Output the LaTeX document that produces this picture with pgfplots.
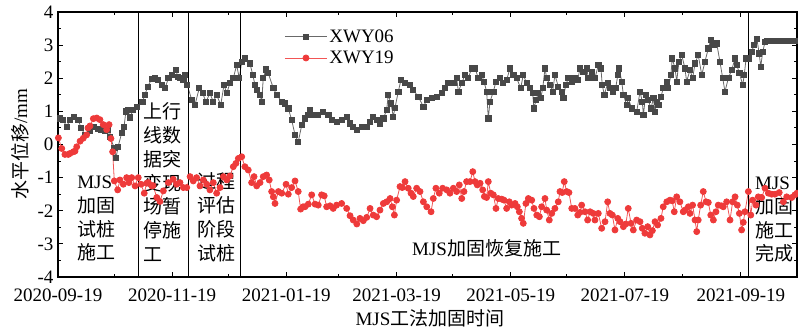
\documentclass[border=0pt]{standalone}
\usepackage{pgfplots}
\pgfplotsset{compat=1.18}
\usepackage{fontspec}
\setmainfont{Liberation Serif}
\newfontfamily\cjk{Noto Sans CJK SC}
\definecolor{gmark}{RGB}{72,72,72}
\definecolor{gline}{RGB}{105,105,105}
\definecolor{rmark}{RGB}{238,58,58}
\definecolor{rline}{RGB}{242,85,85}
\newcommand{\fs}{\fontsize{19}{23.8}\selectfont}
\begin{document}
\begin{tikzpicture}[x=1pt,y=1pt]
\begin{axis}[
  at={(0,0)}, anchor=south west,
  scale only axis, width=739pt, height=265pt,
  xmin=0, xmax=395, ymin=-4, ymax=4,
  xtick={0,61,122,181,242,303,365},
  xticklabels={2020-09-19,2020-11-19,2021-01-19,2021-03-19,2021-05-19,2021-07-19,2021-09-19},
  minor xtick={30,91,150,211,272,334,395},
  ytick={-4,-3,-2,-1,0,1,2,3,4},
  yticklabels={-4,-3,-2,-1,0,1,2,3,4},
  minor ytick={-3.5,-2.5,-1.5,-0.5,0.5,1.5,2.5,3.5},
  tick align=inside, xtick pos=both, ytick pos=both,
  major tick length=5pt, minor tick length=3pt,
  every tick/.style={black, line width=0.9pt},
  axis line style={black, line width=1.1pt},
  tick label style={font=\fs},
  xticklabel style={yshift=-8pt},
  yticklabel style={xshift=-1pt},
  legend style={at={(axis cs:121,3.53)}, anchor=north west, draw=none, fill=none,
    font=\fs, inner sep=0pt, row sep=3pt, legend cell align=left},
  legend image code/.code={\draw[mark repeat=2,mark phase=2,#1] plot coordinates {(0pt,0pt) (21pt,0pt) (42pt,0pt)};},
]
\addplot[gline, line width=0.8pt, mark=square*, mark size=2.6pt, mark options={gmark, fill=gmark, solid}] coordinates {
(1.1,0.79) (2.8,0.74) (4.6,0.54) (6.4,0.74) (8.7,0.84) (10.9,0.74) (12.3,0.5) (14.4,0.30) (17.1,0.40) (19.4,0.54)
(21.5,0.48) (23.0,0.44) (25.1,0.40) (26.7,0.45) (27.8,0.22) (30.1,-0.1) (31.0,-0.41) (32.1,-0.07) (34.0,0.34) (35.3,0.54)
(36.3,1.0) (37.4,1.04) (38.5,0.82) (40.2,1.05) (42.1,1.14) (45.1,1.29) (46.5,1.5) (47.9,1.75) (50.1,1.97) (51.8,2.0)
(53.6,1.95) (55.4,1.8) (57.2,1.7) (59.0,2.0) (60.8,2.1) (62.9,2.25) (64.1,2.05) (65.2,2.0) (67.0,1.95) (67.9,2.1)
(69.1,1.8) (71.5,1.34) (73.2,1.19) (75.5,1.7) (77.3,1.55) (79.1,1.29) (81.2,1.55) (83.0,1.29) (84.8,1.5) (87.0,1.19)
(88.7,1.8) (90.2,1.55) (91.9,1.85) (93.7,2.0) (95.5,2.4) (96.9,2.0) (98.2,2.5) (99.9,2.6) (102.6,2.45) (104.1,2.1)
(105.3,1.8) (106.5,1.65) (108.0,1.5) (108.9,1.29) (109.7,2.0) (111.2,2.27) (112.4,2.15) (115.1,1.7) (116.9,1.5) (119.6,1.29)
(121.3,1.24) (123.1,1.09) (124.9,0.74) (126.7,0.29) (128.4,0.08) (130.3,0.59) (132.0,0.79) (133.8,0.89) (134.7,1.04) (136.5,0.89)
(139.1,0.89) (141.8,0.99) (144.5,0.89) (146.3,0.74) (149.0,0.69) (151.6,0.74) (154.3,0.84) (156.1,0.64) (157.8,0.54) (159.7,0.44)
(162.3,0.54) (165.0,0.54) (166.8,0.69) (168.5,0.84) (170.3,0.74) (172.1,0.64) (173.9,0.79) (175.7,1.04) (176.5,1.5) (178.0,1.24)
(179.2,0.84) (180.1,1.1) (181.9,1.6) (183.3,1.95) (185.5,1.85) (188.1,1.8) (189.9,1.65) (192.6,1.44) (195.3,1.14) (197.1,1.34)
(199.7,1.4) (202.4,1.44) (205.1,1.55) (206.9,1.7) (208.6,1.85) (211.3,1.85) (213.1,2.0) (214.0,1.6) (215.8,1.85) (217.5,2.1)
(219.3,2.0) (221.1,2.3) (222.9,2.3) (224.7,2.0) (226.5,2.1) (227.7,1.9) (229.1,1.6) (230.0,0.79) (230.9,1.29) (232.7,1.6)
(234.1,1.9) (236.2,2.0) (238.0,1.85) (239.8,1.95) (241.6,2.3) (243.4,2.1) (245.2,2.0) (247.3,1.7) (248.7,2.1) (250.5,1.85)
(252.3,1.7) (253.7,1.55) (254.4,1.09) (255.5,1.34) (256.7,1.55) (258.0,1.4) (259.1,1.7) (260.3,2.3) (261.2,2.0) (263.0,1.8)
(264.4,1.6) (265.6,2.1) (267.4,1.75) (269.2,1.6) (270.1,1.4) (271.4,1.8) (272.8,2.0) (274.6,1.9) (276.3,2.0) (277.8,1.95)
(279.0,2.3) (280.8,2.2) (282.6,2.3) (283.5,2.0) (285.3,2.2) (287.0,2.0) (288.8,2.4) (290.2,2.3) (290.9,1.8) (292.0,1.5)
(293.8,1.85) (295.0,1.7) (296.8,1.6) (298.1,1.7) (299.2,2.1) (300.0,2.3) (301.3,1.9) (302.2,1.5) (304.0,1.19) (304.8,1.4)
(306.6,1.09) (309.3,0.99) (311.1,1.6) (312.3,1.29) (312.9,0.89) (314.1,1.5) (315.5,1.34) (317.0,1.09) (318.2,1.4) (319.1,0.99)
(320.0,1.29) (320.9,1.19) (322.3,1.44) (323.5,1.7) (325.4,1.9) (326.2,1.7) (327.6,2.1) (328.3,2.6) (329.8,2.3) (330.7,1.9)
(331.9,2.5) (333.4,2.7) (335.1,2.3) (336.0,1.9) (337.8,2.25) (339.2,2.0) (340.5,2.45) (342.2,2.7) (344.1,2.1) (345.8,2.5)
(347.6,2.9) (348.9,3.16) (350.3,3.0) (352.1,3.05) (353.8,2.5) (355.3,2.0) (356.5,1.6) (358.3,2.0) (360.1,2.25) (361.9,2.6)
(362.8,2.4) (364.2,2.15) (366.0,1.8) (366.8,2.1) (367.8,2.6) (369.5,2.6) (370.8,2.8) (372.0,3.0) (373.5,3.2) (374.8,2.75)
(375.6,2.35) (376.7,2.8) (377.9,3.1) (379.2,3.12) (380.5,3.12) (381.8,3.12) (383.1,3.12) (384.4,3.12) (385.7,3.12) (387.0,3.12)
(388.3,3.12) (389.6,3.12) (390.9,3.12) (392.2,3.12) (393.5,3.12) (394.8,3.12)
};
\addlegendentry{XWY06}
\addplot[rline, line width=0.8pt, mark=*, mark size=3pt, mark options={rmark, fill=rmark, solid}] coordinates {
(0.2,0.2) (2.0,-0.12) (3.7,-0.3) (5.5,-0.3) (6.4,-0.27) (8.2,-0.22) (9.1,-0.2) (10.0,-0.07) (11.8,0.1) (13.5,0.19)
(15.3,0.29) (16.0,0.5) (17.1,0.56) (18.9,0.78) (20.7,0.8) (22.4,0.75) (24.2,0.6) (26.0,0.45) (27.3,0.6) (28.3,0.18)
(29.2,-0.22) (30.1,-1.1) (31.9,-1.37) (33.1,-1.07) (34.9,-1.2) (36.7,-1.0) (37.9,-1.15) (39.4,-1.0) (41.2,-1.25) (42.9,-1.0)
(44.4,-1.2) (46.1,-1.47) (47.4,-1.17) (48.3,-1.15) (50.1,-1.25) (50.8,-1.24) (52.8,-1.6) (54.5,-1.72) (56.3,-1.4) (59.0,-1.15)
(61.6,-1.05) (63.4,-1.2) (65.2,-1.15) (67.0,-1.3) (68.8,-1.3) (70.6,-0.97) (72.3,-1.1) (74.1,-1.0) (75.9,-1.25) (77.7,-1.07)
(79.5,-1.2) (81.2,-1.37) (83.0,-1.15) (84.8,-1.47) (86.6,-1.3) (88.4,-0.97) (90.2,-1.07) (91.9,-0.95) (93.7,-0.67) (95.1,-0.57)
(96.4,-0.42) (98.2,-0.37) (99.9,-0.67) (101.7,-0.77) (103.5,-1.15) (104.8,-0.97) (106.2,-1.25) (108.0,-1.15) (109.7,-0.97) (111.5,-0.92)
(112.9,-1.07) (114.2,-1.42) (115.1,-1.58) (116.0,-1.78) (117.8,-1.42) (119.6,-1.47) (121.9,-1.2) (123.1,-1.5) (124.9,-1.3) (126.7,-1.1)
(128.4,-1.42) (129.7,-1.95) (131.0,-1.88) (132.0,-1.88) (133.8,-1.8) (135.6,-1.52) (137.4,-1.8) (139.1,-1.83) (140.9,-1.52) (142.3,-1.55)
(143.6,-1.88) (145.4,-1.85) (147.1,-1.93) (148.9,-1.83) (151.6,-1.78) (154.3,-1.93) (156.1,-2.15) (157.8,-2.28) (159.7,-2.4) (161.4,-2.23)
(163.2,-2.3) (165.0,-2.2) (166.8,-1.93) (168.5,-2.13) (170.3,-2.18) (172.1,-1.98) (173.9,-1.78) (175.7,-1.73) (177.5,-1.63) (178.7,-1.88)
(179.8,-2.13) (181.0,-1.68) (182.8,-1.27) (184.0,-1.3) (185.5,-1.12) (187.2,-1.32) (188.7,-1.47) (189.9,-1.57) (191.7,-1.32) (193.5,-1.42)
(195.3,-1.73) (197.1,-1.88) (199.4,-2.03) (200.6,-1.63) (202.0,-1.32) (203.8,-1.47) (205.6,-1.32) (207.8,-1.37) (209.5,-1.47) (211.3,-1.32)
(213.1,-1.42) (214.5,-1.22) (215.8,-1.63) (217.0,-1.42) (218.4,-1.12) (220.2,-1.12) (221.7,-0.82) (222.9,-1.12) (224.1,-1.22) (225.6,-1.17)
(227.0,-1.37) (227.9,-1.57) (229.1,-1.6) (230.0,-1.12) (231.3,-1.47) (232.7,-1.52) (234.1,-1.93) (235.3,-1.63) (237.2,-1.65) (238.4,-1.68)
(239.8,-1.93) (241.2,-1.73) (242.5,-1.83) (244.3,-1.78) (245.5,-1.88) (246.6,-2.03) (247.8,-2.23) (248.7,-2.38) (250.1,-1.78) (251.4,-1.63)
(253.2,-1.68) (254.4,-1.93) (255.9,-2.13) (257.3,-2.18) (258.5,-1.88) (260.3,-1.63) (261.2,-1.98) (262.6,-2.28) (263.9,-2.08) (265.6,-1.93)
(267.4,-1.73) (268.3,-1.42) (269.5,-1.45) (270.6,-1.12) (271.9,-1.42) (273.1,-1.45) (274.6,-1.93) (276.3,-1.93) (277.8,-2.13) (279.0,-2.05)
(279.9,-1.83) (281.7,-2.03) (283.1,-2.28) (284.4,-2.03) (286.1,-2.08) (287.0,-2.28) (288.8,-2.08) (290.6,-2.53) (292.4,-2.33) (293.8,-1.73)
(295.0,-2.08) (296.3,-2.13) (297.7,-2.58) (299.2,-2.23) (300.4,-2.33) (302.2,-2.48) (303.5,-2.4) (304.8,-1.93) (306.3,-2.38) (307.5,-2.58)
(309.3,-2.28) (311.1,-2.33) (312.3,-2.53) (313.7,-2.68) (315.2,-2.48) (316.4,-2.73) (317.7,-2.6) (319.1,-2.33) (320.5,-2.43) (322.3,-2.23)
(323.5,-1.88) (325.4,-1.73) (327.1,-1.68) (328.3,-1.7) (329.4,-2.03) (330.7,-1.58) (332.4,-1.73) (334.2,-2.03) (335.1,-1.98) (336.9,-1.88)
(337.8,-2.08) (339.2,-1.83) (340.5,-2.28) (341.4,-2.63) (342.2,-2.28) (343.5,-1.83) (344.9,-1.42) (346.4,-1.73) (347.6,-1.75) (348.9,-2.13)
(350.3,-2.28) (351.7,-2.03) (352.9,-1.83) (354.7,-1.85) (355.6,-1.88) (357.4,-1.73) (359.2,-2.28) (360.6,-1.73) (361.9,-1.58) (363.1,-1.83)
(364.2,-2.08) (365.4,-2.58) (366.3,-2.35) (367.2,-2.03) (369.0,-1.42) (370.3,-2.13) (371.3,-1.68) (373.1,-1.83) (374.3,-1.58) (376.1,-1.6)
(377.9,-1.32) (379.7,-1.47) (381.5,-1.5) (383.2,-1.5) (385.5,-1.45) (387.7,-1.73) (389.5,-1.58) (392.2,-1.6) (393.9,-1.52) (395.0,-1.47)
};
\addlegendentry{XWY19}
\addplot[black, line width=0.9pt, forget plot] coordinates {(43.0,-4) (43.0,4)};
\addplot[black, line width=0.9pt, forget plot] coordinates {(69.7,-4) (69.7,4)};
\addplot[black, line width=0.9pt, forget plot] coordinates {(97.6,-4) (97.6,4)};
\addplot[black, line width=0.9pt, forget plot] coordinates {(369.3,-4) (369.3,4)};
\node[anchor=north west, align=left, inner sep=0pt, font=\fs] at (axis cs:10.2,-0.94) {MJS\\\cjk 加固\\\cjk 试桩\\\cjk 施工};
\node[anchor=north west, align=left, inner sep=0pt, font=\fs] at (axis cs:45.4,1.27) {\cjk 上行\\\cjk 线数\\\cjk 据突\\\cjk 变现\\\cjk 场暂\\\cjk 停施\\\cjk 工};
\node[anchor=north west, align=left, inner sep=0pt, font=\fs] at (axis cs:74.3,-0.85) {\cjk 过程\\\cjk 评估\\\cjk 阶段\\\cjk 试桩};
\node[anchor=west, inner sep=0pt, font=\fs] at (axis cs:189.2,-3.13) {MJS{\cjk 加固恢复施工}};
\node[anchor=north west, align=left, inner sep=0pt, font=\fs] at (axis cs:372.5,-0.97) {MJS\\\cjk 加固\\\cjk 施工\\\cjk 完成};
\end{axis}
\node[rotate=90, font=\fs] at (-38,132.5) {{\cjk 水平位移}/mm};
\node[font=\fs] at (372,-41) {MJS{\cjk 工法加固时间}};
\pgfresetboundingbox
\path (-58,-56) rectangle (740,277);
\end{tikzpicture}
\end{document}
